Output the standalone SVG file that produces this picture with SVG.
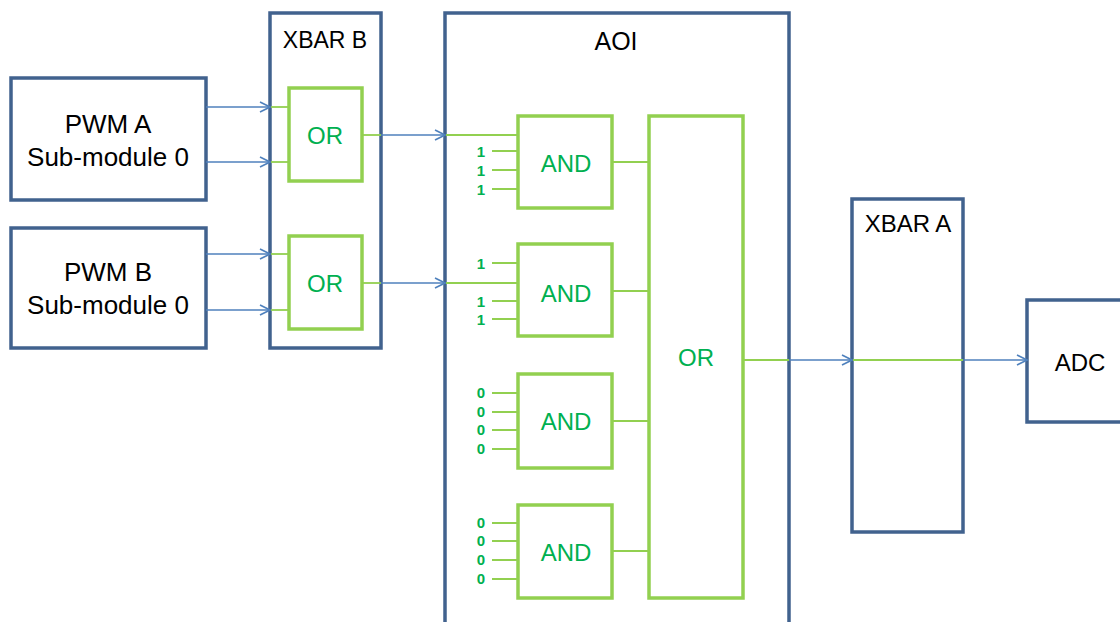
<svg xmlns="http://www.w3.org/2000/svg" width="1120" height="622" viewBox="0 0 1120 622">
<style>
.blk{fill:#fff;stroke:#41628E;stroke-width:3.5}
.gate{fill:#fff;stroke:#92D050;stroke-width:3.5}
.bl{stroke:#4F81BD;stroke-width:1.6;fill:none}
.gr{stroke:#92D050;stroke-width:1.8;fill:none}
.t{font-family:"Liberation Sans",Arial,sans-serif;fill:#000;text-anchor:middle}
.tg{font-family:"Liberation Sans",Arial,sans-serif;fill:#00B050;text-anchor:middle;font-size:24px}
.d{font-family:"Liberation Sans",Arial,sans-serif;font-weight:bold;fill:#00B050;font-size:15px;text-anchor:middle}
</style>
<defs>
<marker id="arr" markerUnits="userSpaceOnUse" viewBox="0 0 12 12" markerWidth="12" markerHeight="12" refX="11" refY="6" orient="auto">
<path d="M1,1 L11,6 L1,11" fill="none" stroke="#4F81BD" stroke-width="1.6"/>
</marker>
</defs>
<rect width="1120" height="622" fill="#fff"/>

<g id="pwmA">
<rect class="blk" x="11" y="78" width="195" height="122"/>
<text class="t" x="108" y="133" font-size="26">PWM A</text>
<text class="t" x="108" y="166" font-size="26">Sub-module 0</text>
</g>
<g id="pwmB">
<rect class="blk" x="11" y="228" width="195" height="120"/>
<text class="t" x="108" y="281" font-size="26">PWM B</text>
<text class="t" x="108" y="314" font-size="26">Sub-module 0</text>
</g>

<g id="xbarB">
<rect class="blk" x="270" y="13" width="111" height="335"/>
<text class="t" x="325" y="48" font-size="23">XBAR B</text>
</g>
<g id="orB1">
<rect class="gate" x="289" y="88" width="73" height="93"/>
<text class="tg" x="325" y="144" font-size="23">OR</text>
</g>
<g id="orB2">
<rect class="gate" x="289" y="236" width="73" height="93"/>
<text class="tg" x="325" y="292" font-size="23">OR</text>
</g>

<g id="aoi">
<rect class="blk" x="445" y="13" width="344" height="630"/>
<text class="t" x="616" y="50" font-size="25">AOI</text>
</g>
<g id="and1">
<rect class="gate" x="518" y="116" width="94" height="92"/>
<text class="tg" x="566" y="172">AND</text>
</g>
<g id="and2">
<rect class="gate" x="518" y="244" width="94" height="92"/>
<text class="tg" x="566" y="302">AND</text>
</g>
<g id="and3">
<rect class="gate" x="518" y="374" width="94" height="94"/>
<text class="tg" x="566" y="430">AND</text>
</g>
<g id="and4">
<rect class="gate" x="518" y="505" width="94" height="93"/>
<text class="tg" x="566" y="561">AND</text>
</g>
<g id="orAOI">
<rect class="gate" x="649" y="116" width="94" height="482"/>
<text class="tg" x="696" y="366">OR</text>
</g>

<g id="xbarA">
<rect class="blk" x="852" y="199" width="111" height="333"/>
<text class="t" x="908" y="232" font-size="24">XBAR A</text>
</g>
<g id="adc">
<rect class="blk" x="1027" y="300" width="110" height="122"/>
<text class="t" x="1080" y="371" font-size="24">ADC</text>
</g>

<g id="constants">
<text class="d" x="481" y="157">1</text>
<text class="d" x="481" y="176">1</text>
<text class="d" x="481" y="195">1</text>
<text class="d" x="481" y="269">1</text>
<text class="d" x="481" y="307">1</text>
<text class="d" x="481" y="325">1</text>
<text class="d" x="481" y="398">0</text>
<text class="d" x="481" y="417">0</text>
<text class="d" x="481" y="435">0</text>
<text class="d" x="481" y="454">0</text>
<text class="d" x="481" y="528">0</text>
<text class="d" x="481" y="546">0</text>
<text class="d" x="481" y="565">0</text>
<text class="d" x="481" y="584">0</text>
</g>

<g id="connectors">
<line class="bl" x1="206" y1="107" x2="270" y2="107" marker-end="url(#arr)"/>
<line class="bl" x1="206" y1="162" x2="270" y2="162" marker-end="url(#arr)"/>
<line class="bl" x1="206" y1="254" x2="270" y2="254" marker-end="url(#arr)"/>
<line class="bl" x1="206" y1="310" x2="270" y2="310" marker-end="url(#arr)"/>
<line class="gr" x1="271" y1="107" x2="289" y2="107"/>
<line class="gr" x1="271" y1="162" x2="289" y2="162"/>
<line class="gr" x1="271" y1="254" x2="289" y2="254"/>
<line class="gr" x1="271" y1="310" x2="289" y2="310"/>
<line class="gr" x1="362" y1="135" x2="381" y2="135"/>
<line class="gr" x1="362" y1="283" x2="381" y2="283"/>
<line class="bl" x1="381" y1="135" x2="445" y2="135" marker-end="url(#arr)"/>
<line class="bl" x1="381" y1="283" x2="445" y2="283" marker-end="url(#arr)"/>
<line class="gr" x1="446" y1="135" x2="518" y2="135"/>
<line class="gr" x1="446" y1="283" x2="518" y2="283"/>
<path class="gr" d="M492,151H518M492,170H518M492,189H518M492,263H518M492,301H518M492,319H518M492,393H518M492,412H518M492,430H518M492,449H518M492,523H518M492,541H518M492,560H518M492,579H518"/>
<path class="gr" d="M612,162H649M612,291H649M612,421H649M612,551H649"/>
<line class="gr" x1="743" y1="360" x2="789" y2="360"/>
<line class="bl" x1="789" y1="360" x2="852" y2="360" marker-end="url(#arr)"/>
<line class="gr" x1="853" y1="360" x2="963" y2="360"/>
<line class="bl" x1="963" y1="360" x2="1027" y2="360" marker-end="url(#arr)"/>
</g>
</svg>
